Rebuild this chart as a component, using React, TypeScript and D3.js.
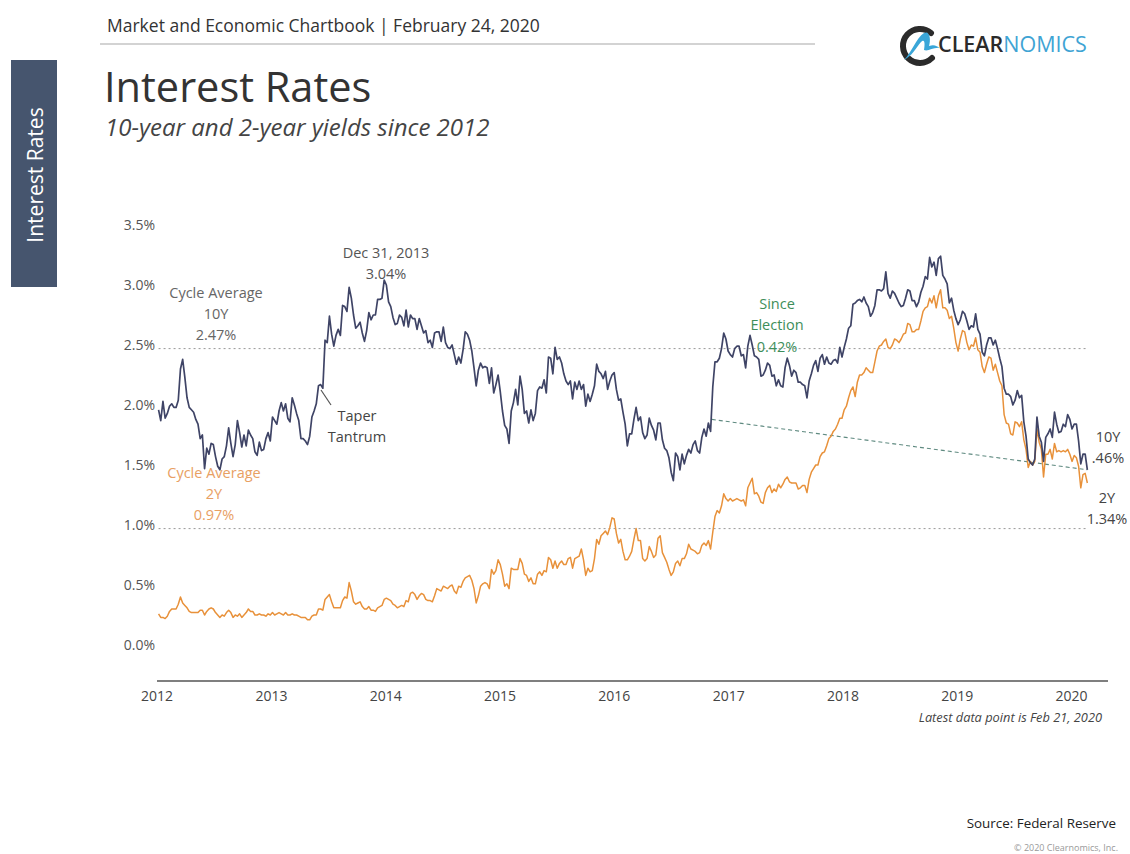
import React from "react"
import * as d3 from "d3"

// weekly closes (Fridays), starting Jan 6, 2012
const START = new Date(2012, 0, 6)

const tenY2012 = [1.96, 1.87, 2.03, 1.89, 1.93, 1.99, 2.01, 1.98, 1.98, 2.04, 2.30, 2.38, 2.23, 2.06, 1.98, 1.96, 1.94, 1.88, 1.84, 1.72, 1.75, 1.47, 1.64, 1.59, 1.68, 1.67, 1.57, 1.49, 1.46, 1.55, 1.57, 1.66, 1.81, 1.68, 1.57, 1.67, 1.87, 1.77, 1.65, 1.75, 1.66, 1.79, 1.75, 1.72, 1.61, 1.58, 1.69, 1.62, 1.63, 1.72, 1.77, 1.70]
const tenY2013 = [1.90, 1.87, 1.84, 1.95, 2.02, 1.95, 2.01, 1.89, 1.86, 2.06, 2.00, 1.93, 1.87, 1.72, 1.72, 1.70, 1.67, 1.74, 1.90, 1.95, 2.01, 2.16, 2.17, 2.14, 2.54, 2.52, 2.74, 2.59, 2.49, 2.58, 2.63, 2.58, 2.83, 2.82, 2.78, 2.98, 2.89, 2.75, 2.64, 2.66, 2.69, 2.60, 2.53, 2.62, 2.77, 2.71, 2.75, 2.75, 2.88, 2.88, 2.89, 3.04]
const tenY2014 = [3.00, 2.86, 2.82, 2.73, 2.67, 2.68, 2.75, 2.73, 2.66, 2.79, 2.65, 2.75, 2.72, 2.72, 2.63, 2.72, 2.66, 2.60, 2.62, 2.52, 2.54, 2.48, 2.60, 2.61, 2.61, 2.53, 2.65, 2.52, 2.48, 2.47, 2.50, 2.42, 2.34, 2.40, 2.35, 2.46, 2.61, 2.59, 2.54, 2.45, 2.31, 2.16, 2.29, 2.35, 2.31, 2.32, 2.31, 2.18, 2.31, 2.10, 2.17, 2.25]
const tenY2015 = [2.11, 1.95, 1.83, 1.80, 1.68, 1.95, 2.02, 2.13, 2.00, 2.24, 2.13, 1.93, 1.95, 1.85, 1.96, 1.87, 1.93, 2.12, 2.15, 2.14, 2.21, 2.10, 2.40, 2.39, 2.26, 2.48, 2.38, 2.40, 2.35, 2.26, 2.20, 2.17, 2.20, 2.05, 2.19, 2.13, 2.20, 2.13, 2.17, 1.99, 2.09, 2.03, 2.09, 2.16, 2.34, 2.28, 2.26, 2.22, 2.28, 2.13, 2.20, 2.25]
const tenY2016 = [2.27, 2.13, 2.04, 2.05, 1.94, 1.84, 1.66, 1.76, 1.76, 1.88, 1.98, 1.87, 1.90, 1.77, 1.72, 1.75, 1.89, 1.83, 1.79, 1.71, 1.85, 1.85, 1.71, 1.64, 1.62, 1.56, 1.44, 1.37, 1.60, 1.57, 1.46, 1.59, 1.51, 1.58, 1.63, 1.60, 1.67, 1.70, 1.62, 1.60, 1.73, 1.80, 1.74, 1.85, 1.78, 2.15, 2.36, 2.36, 2.39, 2.47, 2.60, 2.55, 2.45]
const tenY2017 = [2.42, 2.40, 2.47, 2.49, 2.49, 2.41, 2.42, 2.31, 2.49, 2.58, 2.50, 2.41, 2.40, 2.38, 2.24, 2.25, 2.29, 2.35, 2.33, 2.24, 2.25, 2.16, 2.21, 2.16, 2.15, 2.31, 2.39, 2.33, 2.24, 2.29, 2.27, 2.19, 2.19, 2.17, 2.16, 2.06, 2.20, 2.26, 2.33, 2.37, 2.28, 2.39, 2.42, 2.34, 2.40, 2.35, 2.34, 2.37, 2.38, 2.35, 2.48, 2.40]
const tenY2018 = [2.48, 2.55, 2.64, 2.66, 2.84, 2.85, 2.87, 2.88, 2.86, 2.90, 2.85, 2.82, 2.74, 2.77, 2.83, 2.96, 2.96, 2.95, 2.97, 3.11, 2.93, 2.89, 2.95, 2.93, 2.89, 2.85, 2.82, 2.83, 2.89, 2.96, 2.95, 2.87, 2.87, 2.82, 2.86, 2.94, 2.99, 3.07, 3.05, 3.23, 3.15, 3.19, 3.08, 3.22, 3.24, 3.08, 3.05, 3.01, 2.85, 2.89, 2.79, 2.72]
const tenY2019 = [2.67, 2.71, 2.78, 2.76, 2.70, 2.63, 2.66, 2.65, 2.76, 2.63, 2.59, 2.44, 2.41, 2.50, 2.56, 2.56, 2.50, 2.54, 2.47, 2.39, 2.32, 2.14, 2.09, 2.09, 2.07, 2.00, 2.04, 2.12, 2.06, 2.08, 1.86, 1.74, 1.55, 1.52, 1.50, 1.55, 1.90, 1.74, 1.69, 1.53, 1.73, 1.76, 1.80, 1.73, 1.94, 1.84, 1.77, 1.78, 1.84, 1.82, 1.92, 1.88]
const tenY2020 = [1.80, 1.84, 1.84, 1.70, 1.51, 1.59, 1.59, 1.46]

const twoY2012 = [0.26, 0.23, 0.23, 0.22, 0.24, 0.28, 0.30, 0.30, 0.30, 0.34, 0.40, 0.35, 0.33, 0.31, 0.28, 0.27, 0.27, 0.27, 0.27, 0.29, 0.29, 0.25, 0.28, 0.30, 0.31, 0.30, 0.27, 0.25, 0.23, 0.25, 0.24, 0.27, 0.29, 0.27, 0.23, 0.25, 0.24, 0.26, 0.23, 0.25, 0.27, 0.30, 0.28, 0.28, 0.25, 0.25, 0.26, 0.25, 0.25, 0.24, 0.26, 0.25]
const twoY2013 = [0.27, 0.25, 0.26, 0.27, 0.26, 0.25, 0.27, 0.25, 0.25, 0.26, 0.25, 0.25, 0.24, 0.23, 0.23, 0.23, 0.21, 0.21, 0.24, 0.25, 0.25, 0.30, 0.30, 0.29, 0.38, 0.40, 0.42, 0.36, 0.31, 0.31, 0.31, 0.31, 0.37, 0.40, 0.39, 0.52, 0.45, 0.36, 0.34, 0.35, 0.36, 0.32, 0.30, 0.30, 0.32, 0.29, 0.29, 0.28, 0.31, 0.32, 0.33, 0.38]
const twoY2014 = [0.39, 0.38, 0.37, 0.34, 0.33, 0.31, 0.32, 0.33, 0.32, 0.37, 0.36, 0.43, 0.44, 0.42, 0.38, 0.41, 0.43, 0.42, 0.38, 0.37, 0.37, 0.36, 0.41, 0.47, 0.46, 0.45, 0.49, 0.48, 0.47, 0.49, 0.50, 0.45, 0.43, 0.49, 0.48, 0.53, 0.56, 0.57, 0.58, 0.54, 0.47, 0.35, 0.41, 0.49, 0.51, 0.52, 0.51, 0.47, 0.63, 0.59, 0.62, 0.71]
const twoY2015 = [0.67, 0.59, 0.49, 0.51, 0.47, 0.64, 0.63, 0.63, 0.63, 0.72, 0.68, 0.59, 0.58, 0.53, 0.56, 0.51, 0.51, 0.59, 0.61, 0.58, 0.62, 0.61, 0.73, 0.71, 0.64, 0.70, 0.64, 0.68, 0.70, 0.67, 0.67, 0.72, 0.73, 0.64, 0.72, 0.73, 0.74, 0.80, 0.71, 0.58, 0.64, 0.61, 0.62, 0.72, 0.88, 0.84, 0.91, 0.93, 0.95, 0.92, 0.98, 1.06]
const twoY2016 = [1.05, 0.93, 0.85, 0.88, 0.78, 0.71, 0.71, 0.74, 0.78, 0.88, 0.97, 0.87, 0.87, 0.72, 0.70, 0.72, 0.82, 0.78, 0.73, 0.75, 0.89, 0.91, 0.77, 0.73, 0.69, 0.63, 0.58, 0.61, 0.68, 0.70, 0.66, 0.72, 0.72, 0.76, 0.84, 0.80, 0.79, 0.78, 0.76, 0.77, 0.83, 0.85, 0.83, 0.87, 0.80, 0.94, 1.07, 1.12, 1.10, 1.16, 1.26, 1.22, 1.20]
const twoY2017 = [1.22, 1.20, 1.21, 1.22, 1.21, 1.20, 1.21, 1.16, 1.31, 1.35, 1.39, 1.26, 1.27, 1.24, 1.19, 1.18, 1.27, 1.31, 1.33, 1.27, 1.30, 1.28, 1.34, 1.31, 1.34, 1.38, 1.40, 1.36, 1.35, 1.35, 1.35, 1.30, 1.31, 1.33, 1.33, 1.27, 1.38, 1.44, 1.47, 1.50, 1.50, 1.57, 1.60, 1.61, 1.66, 1.72, 1.74, 1.78, 1.80, 1.84, 1.89, 1.89]
const twoY2018 = [1.96, 1.99, 2.06, 2.12, 2.15, 2.07, 2.19, 2.25, 2.25, 2.27, 2.31, 2.29, 2.27, 2.27, 2.36, 2.45, 2.49, 2.50, 2.53, 2.55, 2.48, 2.47, 2.50, 2.55, 2.54, 2.52, 2.55, 2.59, 2.60, 2.68, 2.67, 2.61, 2.61, 2.63, 2.63, 2.70, 2.78, 2.81, 2.82, 2.89, 2.85, 2.91, 2.81, 2.91, 2.96, 2.81, 2.81, 2.79, 2.72, 2.74, 2.64, 2.52]
const twoY2019 = [2.45, 2.55, 2.62, 2.61, 2.52, 2.46, 2.50, 2.49, 2.56, 2.46, 2.44, 2.32, 2.27, 2.34, 2.40, 2.39, 2.29, 2.34, 2.27, 2.20, 2.16, 1.92, 1.85, 1.84, 1.76, 1.75, 1.86, 1.85, 1.82, 1.86, 1.71, 1.63, 1.48, 1.53, 1.50, 1.53, 1.80, 1.69, 1.63, 1.40, 1.59, 1.59, 1.63, 1.55, 1.68, 1.61, 1.62, 1.61, 1.62, 1.61, 1.63, 1.59]
const twoY2020 = [1.53, 1.58, 1.56, 1.49, 1.31, 1.42, 1.43, 1.35]

const yTicks = [0, 0.5, 1.0, 1.5, 2.0, 2.5, 3.0, 3.5]
const xTickYears = [2012, 2013, 2014, 2015, 2016, 2017, 2018, 2019, 2020]

const cycleAvg10Y = 2.47
const cycleAvg2Y = 0.97
const electionDate = new Date(2016, 10, 8)
const electionValue = 1.88
const latestDate = new Date(2020, 1, 21)
const latest10Y = 1.46

const NAVY = "#3f4466"
const ORANGE = "#e8913a"
const FONT = "'Open Sans', 'Noto Sans', sans-serif"

type Pt = { date: Date; value: number }

const toSeries = (vals: number[]): Pt[] =>
  vals.map((v, i) => ({ date: d3.timeDay.offset(START, 7 * i), value: v }))

const tenYear = toSeries([...tenY2012, ...tenY2013, ...tenY2014, ...tenY2015, ...tenY2016, ...tenY2017, ...tenY2018, ...tenY2019, ...tenY2020])
const twoYear = toSeries([...twoY2012, ...twoY2013, ...twoY2014, ...twoY2015, ...twoY2016, ...twoY2017, ...twoY2018, ...twoY2019, ...twoY2020])

function Logo() {
  return (
    <g>
      <path d="M931,33 A17,17 0 1 0 932,58" fill="none" stroke="#2b2b2b" strokeWidth={6} strokeLinecap="round" />
      <path d="M904,60 C912,52 916,38 924,33 C930,30 931,40 929,46 C934,44 937,46 940,48 C933,47 928,52 924,50 C925,44 925,38 921,42 C916,48 912,56 904,60 Z" fill="#3aa6d8" />
      <text x={938} y={52} fontFamily={FONT} fontSize={21.5} fontWeight={600} fill="#2b2b2b">
        CLEAR<tspan fill="#3fa4d4" fontWeight={500}>NOMICS</tspan>
      </text>
    </g>
  )
}

export default function App() {
  const width = 1130
  const height = 854

  const x = d3.scaleTime().domain([new Date(2012, 0, 1), new Date(2020, 0, 1)]).range([157, 1071.4])
  const y = d3.scaleLinear().domain([0, 3.5]).range([645, 225])

  const line = d3
    .line<Pt>()
    .x((d) => x(d.date))
    .y((d) => y(d.value))

  const firstDate = tenYear[0].date
  const lastDate = tenYear[tenYear.length - 1].date
  const axisY = 681

  return (
    <svg width={width} height={height} style={{ position: "absolute", left: 0, top: 0, background: "#fff" }}>
      {/* header */}
      <text x={107} y={32} fontFamily={FONT} fontSize={17.5} fill="#333">
        Market and Economic Chartbook | February 24, 2020
      </text>
      <line x1={100} x2={815} y1={44} y2={44} stroke="#a8a8a8" strokeWidth={1.2} />
      <Logo />

      {/* side tab */}
      <rect x={11} y={60} width={46} height={227} fill="#46556e" />
      <text transform="translate(43,175) rotate(-90)" textAnchor="middle" fontFamily={FONT} fontSize={21} fill="#fff">
        Interest Rates
      </text>

      {/* titles */}
      <text x={104} y={102} fontFamily={FONT} fontSize={41.5} fill="#333">
        Interest Rates
      </text>
      <text x={105} y={136} fontFamily={FONT} fontStyle="italic" fontSize={24} fill="#444">
        10-year and 2-year yields since 2012
      </text>

      {/* y ticks */}
      {yTicks.map((t) => (
        <text key={t} x={155} y={y(t) + 5} textAnchor="end" fontFamily={FONT} fontSize={14} fill="#555">
          {t.toFixed(1)}%
        </text>
      ))}

      {/* cycle averages */}
      <line x1={x(firstDate)} x2={x(lastDate)} y1={y(cycleAvg10Y)} y2={y(cycleAvg10Y)} stroke="#999" strokeWidth={1} strokeDasharray="2,3" />
      <line x1={x(firstDate)} x2={x(lastDate)} y1={y(cycleAvg2Y)} y2={y(cycleAvg2Y)} stroke="#999" strokeWidth={1} strokeDasharray="2,3" />

      {/* since election trend */}
      <line x1={x(electionDate)} x2={x(latestDate)} y1={y(electionValue)} y2={y(latest10Y)} stroke="#5f8a80" strokeWidth={1.1} strokeDasharray="4,3" />

      {/* series */}
      <path d={line(twoYear) ?? ""} fill="none" stroke={ORANGE} strokeWidth={1.5} strokeLinejoin="round" />
      <path d={line(tenYear) ?? ""} fill="none" stroke={NAVY} strokeWidth={1.7} strokeLinejoin="round" />

      {/* x axis */}
      <line x1={157} x2={1108} y1={axisY} y2={axisY} stroke="#555" strokeWidth={1.5} />
      {xTickYears.map((yr) => (
        <text key={yr} x={x(new Date(yr, 0, 1))} y={axisY + 20} textAnchor="middle" fontFamily={FONT} fontSize={14} fill="#444">
          {yr}
        </text>
      ))}
      <text x={1102} y={722} textAnchor="end" fontFamily={FONT} fontStyle="italic" fontSize={12.8} fill="#444">
        Latest data point is Feb 21, 2020
      </text>

      {/* annotations */}
      <g fontFamily={FONT} fontSize={14.5} textAnchor="middle">
        <g fill="#666">
          <text x={216} y={298}>Cycle Average</text>
          <text x={216} y={319}>10Y</text>
          <text x={216} y={340}>2.47%</text>
        </g>
        <g fill="#555">
          <text x={386} y={258}>Dec 31, 2013</text>
          <text x={386} y={279}>3.04%</text>
        </g>
        <line x1={321} x2={331} y1={390} y2={405} stroke="#555" strokeWidth={1.2} />
        <g fill="#444">
          <text x={357} y={421}>Taper</text>
          <text x={357} y={442}>Tantrum</text>
        </g>
        <g fill="#e8a063">
          <text x={214} y={478}>Cycle Average</text>
          <text x={214} y={499}>2Y</text>
          <text x={214} y={520}>0.97%</text>
        </g>
        <g fill="#3e8e5a">
          <text x={777} y={309}>Since</text>
          <text x={777} y={330}>Election</text>
          <text x={777} y={352}>0.42%</text>
        </g>
        <g fill="#444">
          <text x={1108} y={442}>10Y</text>
          <text x={1108} y={463}>.46%</text>
          <text x={1107} y={503}>2Y</text>
          <text x={1107} y={524}>1.34%</text>
        </g>
      </g>

      {/* footer */}
      <text x={1116} y={828} textAnchor="end" fontFamily={FONT} fontSize={13.4} fill="#222">
        Source: Federal Reserve
      </text>
      <text x={1118} y={851} textAnchor="end" fontFamily={FONT} fontSize={9} fill="#999">
        © 2020 Clearnomics, Inc.
      </text>
    </svg>
  )
}
